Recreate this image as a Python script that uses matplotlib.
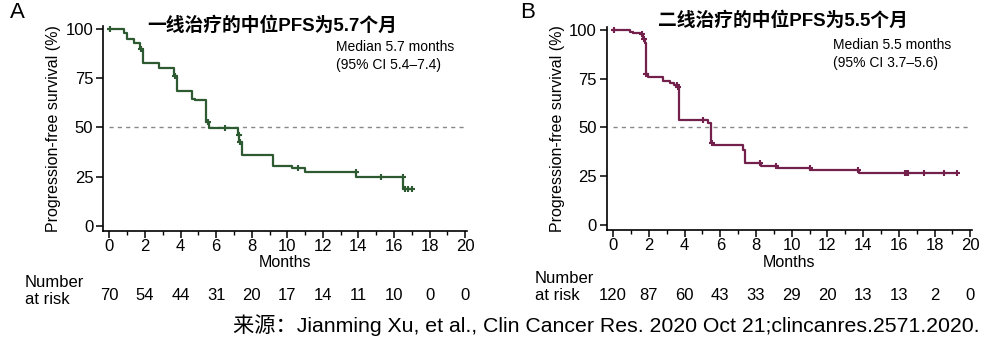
import numpy as np
import matplotlib
matplotlib.use("Agg")
import matplotlib.pyplot as plt
from matplotlib.ticker import MultipleLocator

plt.rcParams["font.family"] = ["Liberation Sans", "Noto Sans CJK SC"]
mixed = ["Liberation Sans", "Noto Sans CJK SC"]

# ---- first-line treatment (A) ----
a_times = [0, 0.80, 0.99, 1.40, 1.74, 1.88, 2.77, 3.61, 3.80, 4.64, 4.83, 5.45, 5.62,
           7.25, 7.30, 7.48, 9.18, 10.25, 11.0, 13.88, 16.52]
a_surv = [100, 98.0, 95.2, 92.7, 90.1, 82.5, 80.4, 75.9, 68.5, 64.6, 63.8, 52.7, 49.5,
          46.4, 42.7, 36.2, 30.6, 29.4, 27.2, 24.8, 18.7]
a_censor = [0.05, 1.78, 3.70, 5.52, 6.50, 7.27, 7.33, 10.62, 13.84, 15.26, 16.48,
            16.61, 16.80, 17.02]
a_risk = [70, 54, 44, 31, 20, 17, 14, 11, 10, 0, 0]

# ---- second-line treatment (B) ----
b_times = [0, 0.94, 1.12, 1.50, 1.68, 1.76, 1.82, 1.96, 2.77, 3.18, 3.40, 3.62, 3.69,
           5.33, 5.48, 5.58, 7.26, 7.39, 8.29, 9.16, 11.05, 13.78]
b_surv = [100, 98.9, 98.1, 97.6, 95.4, 93.4, 77.5, 75.6, 73.7, 72.6, 71.6, 70.9, 53.8,
          52.5, 41.9, 40.9, 38.3, 31.6, 30.1, 29.0, 28.1, 26.7]
b_censor = [0.05, 1.62, 1.72, 1.86, 3.55, 3.65, 5.01, 5.52, 8.23, 9.10, 11.03, 13.74,
            16.36, 16.45, 16.52, 17.39, 18.55, 19.26]
b_risk = [120, 87, 60, 43, 33, 29, 20, 13, 13, 2, 0]

risk_months = list(range(0, 21, 2))

green = "#2e5a31"
maroon = "#74204c"


def km_panel(ax, times, surv, censor, color):
    t = np.array(times + [max(censor)])
    s = np.array(surv + [surv[-1]])
    ax.plot(t, s, drawstyle="steps-post", color=color, lw=1.6, zorder=3)
    idx = np.searchsorted(times, censor, side="right") - 1
    ax.plot(censor, np.array(surv)[idx], ls="none", marker="+", ms=5, mew=1.5,
            color=color, zorder=4)
    ax.plot([0, 20], [50, 50], ls=(0, (3, 3)), color="#888888", lw=1.0, zorder=1)

    for sp in ["top", "right"]:
        ax.spines[sp].set_visible(False)
    for sp in ["left", "bottom"]:
        ax.spines[sp].set_linewidth(1.2)
    ax.set_xlim(-0.36, 20.08)
    ax.set_ylim(-2.5, 101.5)
    ax.set_xticks(risk_months)
    ax.xaxis.set_minor_locator(MultipleLocator(1))
    ax.set_yticks([0, 25, 50, 75, 100])
    ax.tick_params(axis="both", which="major", length=5, width=1.1, labelsize=12)
    ax.tick_params(axis="x", which="major", pad=1)
    ax.tick_params(axis="y", which="major", pad=2)
    ax.tick_params(axis="x", which="minor", length=3, width=1.0)
    ax.set_ylabel("Progression-free survival (%)", fontsize=11.5, labelpad=3)
    ax.set_xlabel("Months", fontsize=11.5, labelpad=1)


fig = plt.figure(figsize=(10.04, 3.45), dpi=100)
ax_a = fig.add_axes([0.1026, 0.3313, 0.3622, 0.5930])
ax_b = fig.add_axes([0.6043, 0.3333, 0.3635, 0.5890])

km_panel(ax_a, a_times, a_surv, a_censor, green)
km_panel(ax_b, b_times, b_surv, b_censor, maroon)

# panel letters and titles
fig.text(10 / 1004, 1 - 13 / 345, "A", fontsize=16, ha="left", va="center")
fig.text(520 / 1004, 1 - 12 / 345, "B", fontsize=16, ha="left", va="center")
fig.text(272 / 1004, 1 - 25.5 / 345, "一线治疗的中位PFS为5.7个月", fontsize=13.5,
         fontweight="bold", ha="center", va="center", family=mixed)
fig.text(783 / 1004, 1 - 21 / 345, "二线治疗的中位PFS为5.5个月", fontsize=13.5,
         fontweight="bold", ha="center", va="center", family=mixed)

# median annotations
fig.text(336 / 1004, 1 - 56 / 345, "Median 5.7 months\n(95% CI 5.4\u20137.4)",
         fontsize=10, ha="left", va="center", linespacing=1.3)
fig.text(833 / 1004, 1 - 54 / 345, "Median 5.5 months\n(95% CI 3.7\u20135.6)",
         fontsize=10, ha="left", va="center", linespacing=1.3)

# numbers at risk
fig.text(25 / 1004, 1 - 291 / 345, "Number\nat risk", fontsize=12, ha="left",
         va="center", linespacing=1.15)
fig.text(535 / 1004, 1 - 287 / 345, "Number\nat risk", fontsize=12, ha="left",
         va="center", linespacing=1.15)
for ax, risk in [(ax_a, a_risk), (ax_b, b_risk)]:
    trans = matplotlib.transforms.blended_transform_factory(ax.transData, fig.transFigure)
    for m, n in zip(risk_months, risk):
        ax.text(m, 1 - 295 / 345, str(n), transform=trans, fontsize=12,
                ha="center", va="center")

fig.text(980 / 1004, 1 - 325 / 345,
         "来源：Jianming Xu, et al., Clin Cancer Res. 2020 Oct 21;clincanres.2571.2020.",
         fontsize=15.3, ha="right", va="center", family=mixed)

fig.savefig("out.png", dpi=100)
